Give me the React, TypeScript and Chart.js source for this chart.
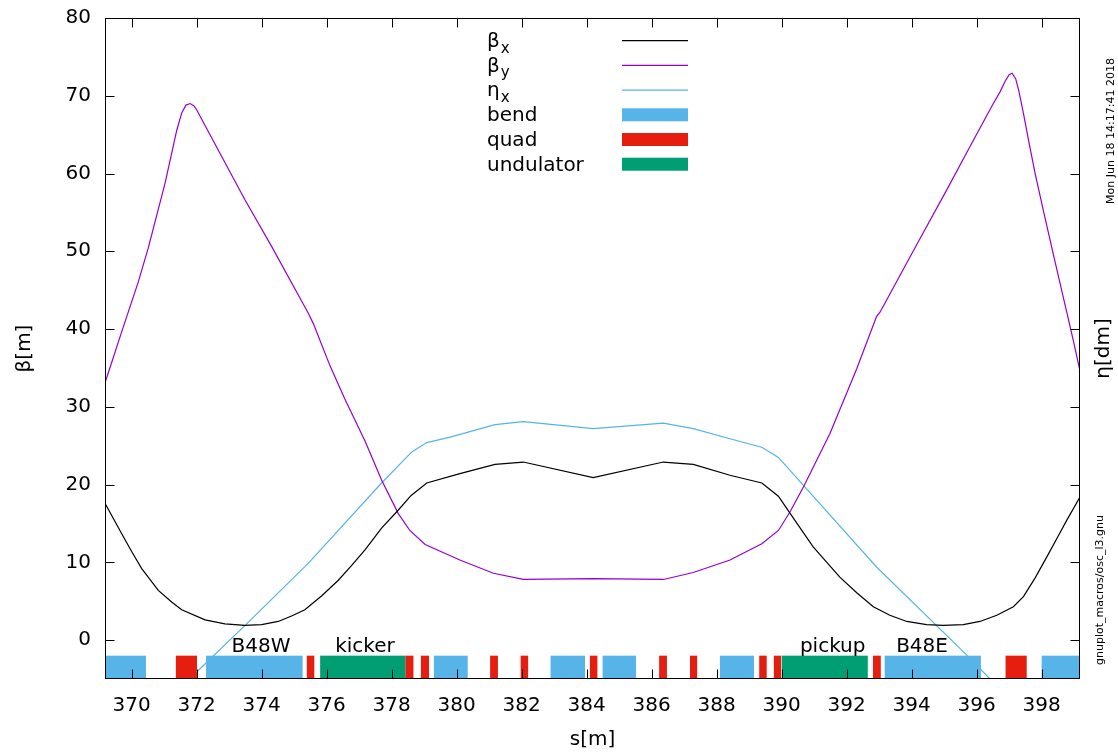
import React, { useEffect, useRef } from "react";
import { Chart, registerables } from "chart.js";

Chart.register(...registerables);

// ---- data ----
const S_BETAX = [369.18, 369.69, 370.0, 370.31, 370.82, 371.23, 371.54, 372.26, 372.87, 373.49, 374.0, 374.51, 374.92, 375.33, 375.85, 376.36, 376.77, 377.18, 377.69, 378.2, 378.6, 379.08, 380.1, 381.18, 382.05, 384.2, 386.36, 387.28, 388.41, 389.39, 389.9, 390.26, 390.97, 391.39, 391.79, 392.31, 392.82, 393.33, 393.85, 394.46, 394.97, 395.59, 396.1, 396.62, 397.13, 397.44, 397.8, 398.16, 398.51, 398.77, 399.18];
const BETAX = [17.6, 13.7, 11.4, 9.2, 6.4, 4.9, 3.9, 2.6, 2.1, 1.9, 2.0, 2.4, 3.1, 3.9, 5.7, 7.7, 9.6, 11.6, 14.4, 16.7, 18.6, 20.2, 21.4, 22.6, 22.9, 20.9, 22.9, 22.6, 21.2, 20.2, 18.5, 16.3, 12.0, 10.0, 8.1, 6.1, 4.3, 3.2, 2.4, 2.0, 1.9, 2.0, 2.4, 3.2, 4.3, 5.6, 8.0, 10.7, 13.4, 15.4, 18.4];

const S_BETAY = [369.18, 369.33, 369.69, 370.2, 370.51, 371.03, 371.39, 371.54, 371.67, 371.8, 371.92, 372.0, 372.77, 373.49, 374.31, 375.44, 375.59, 376.1, 376.56, 377.18, 377.69, 378.2, 378.56, 379.03, 380.1, 381.13, 382.05, 384.2, 386.36, 387.28, 388.41, 389.39, 389.9, 390.26, 390.67, 391.49, 392.31, 392.92, 393.03, 394.15, 395.08, 395.8, 396.5, 396.72, 396.88, 397.0, 397.09, 397.2, 397.3, 397.45, 397.6, 397.8, 398.05, 398.36, 398.67, 398.97, 399.18];
const BETAY = [33.1, 35.0, 39.6, 46.0, 50.4, 58.8, 65.6, 67.8, 68.8, 69.0, 68.7, 68.2, 62.2, 56.6, 50.6, 42.0, 40.7, 35.3, 31.0, 25.6, 20.6, 16.3, 14.1, 12.3, 10.3, 8.6, 7.8, 7.9, 7.8, 8.7, 10.3, 12.4, 14.1, 16.5, 19.7, 26.6, 34.9, 41.6, 42.2, 50.8, 57.9, 63.5, 68.9, 70.5, 71.9, 72.7, 72.9, 72.2, 70.6, 67.5, 64.2, 60.0, 55.3, 49.6, 44.0, 38.6, 34.6];

const S_ETAX = [372.0, 373.49, 375.44, 377.69, 378.62, 379.08, 379.8, 381.18, 382.05, 384.2, 386.36, 387.28, 388.41, 389.39, 389.9, 392.92, 395.69, 396.41];
const ETAX = [-4.1, 1.9, 9.9, 20.2, 24.2, 25.4, 26.1, 27.7, 28.1, 27.2, 27.9, 27.2, 25.9, 24.8, 23.5, 9.4, -1.9, -5.0];

const BEND_START = [369.18, 372.29, 379.3, 382.89, 384.49, 388.1, 393.17, 398.0];
const BEND_END = [370.44, 375.26, 380.34, 383.95, 385.52, 389.15, 396.13, 399.18];
const QUAD_START = [371.36, 375.39, 378.42, 378.9, 381.03, 381.97, 384.1, 386.23, 387.18, 389.31, 389.76, 392.81, 396.89];
const QUAD_END = [372.01, 375.62, 378.67, 379.15, 381.27, 382.2, 384.33, 386.47, 387.4, 389.54, 389.98, 393.05, 397.54];
const UND_START = [375.8, 390.0];
const UND_END = [378.42, 392.65];
const ELEMENT_TOP = -2;
const ELEMENT_BOTTOM = -5;

const ELEMENT_LABELS = ["B48W", "kicker", "pickup", "B48E"];
const ELEMENT_LABEL_S = [373.98, 377.18, 391.57, 394.32];
const ELEMENT_LABEL_Y = -1.57;

const X_TICKS = [370, 372, 374, 376, 378, 380, 382, 384, 386, 388, 390, 392, 394, 396, 398];
const Y_TICKS = [0, 10, 20, 30, 40, 50, 60, 70, 80];
const X_MIN = 369.18;
const X_MAX = 399.18;
const Y_MIN = -5;
const Y_MAX = 80;

const LEGEND_MAIN = ["β", "β", "η", "bend", "quad", "undulator"];
const LEGEND_SUB = ["x", "y", "x", "", "", ""];

const C_BX = "#000000";
const C_BY = "#9400d3";
const C_ETA = "#56b4e9";
const C_BEND = "#56b4e9";
const C_QUAD = "#e51e10";
const C_UND = "#009e73";

const FONT = '"DejaVu Sans", sans-serif';

export default function App() {
  const ref = useRef<HTMLCanvasElement>(null);

  useEffect(() => {
    document.body.style.margin = "0";
    const canvas = ref.current!;
    const pts = (xs: number[], ys: number[]) => xs.map((x, i) => ({ x, y: ys[i] }));

    const curve = (xs: number[], ys: number[], color: string) => ({
      data: pts(xs, ys),
      borderColor: color,
      borderWidth: 1.2,
      pointRadius: 0,
      tension: 0,
      fill: false,
    });

    const legendColors = [C_BX, C_BY, C_ETA, C_BEND, C_QUAD, C_UND];
    const elementGroups: [number[], number[], string][] = [
      [BEND_START, BEND_END, C_BEND],
      [QUAD_START, QUAD_END, C_QUAD],
      [UND_START, UND_END, C_UND],
    ];

    const elements = {
      id: "elements",
      beforeDatasetsDraw(chart: any) {
        const ctx = chart.ctx as CanvasRenderingContext2D;
        const a = chart.chartArea;
        const xs = chart.scales.x;
        const ys = chart.scales.y;
        ctx.save();
        ctx.beginPath();
        ctx.rect(a.left, a.top, a.right - a.left, a.bottom - a.top);
        ctx.clip();
        const yT = ys.getPixelForValue(ELEMENT_TOP);
        const yB = ys.getPixelForValue(ELEMENT_BOTTOM);
        elementGroups.forEach(([st, en, color]) => {
          ctx.fillStyle = color;
          st.forEach((s, i) => {
            const x0 = xs.getPixelForValue(s);
            const x1 = xs.getPixelForValue(en[i]);
            ctx.fillRect(x0, yT, x1 - x0, yB - yT);
          });
        });
        ctx.restore();
      },
    };

    const overlay = {
      id: "overlay",
      afterDraw(chart: any) {
        const ctx = chart.ctx as CanvasRenderingContext2D;
        const a = chart.chartArea;
        const xs = chart.scales.x;
        const ys = chart.scales.y;
        ctx.save();
        // element labels
        ctx.fillStyle = "#000";
        ctx.font = `20px ${FONT}`;
        ctx.textAlign = "center";
        ctx.textBaseline = "alphabetic";
        ELEMENT_LABELS.forEach((t, i) => {
          ctx.fillText(t, xs.getPixelForValue(ELEMENT_LABEL_S[i]), ys.getPixelForValue(ELEMENT_LABEL_Y));
        });
        // frame
        ctx.strokeStyle = "#000";
        ctx.lineWidth = 1;
        const L = Math.round(a.left) + 0.5;
        const R = Math.round(a.right) - 0.5;
        const T = Math.round(a.top) + 0.5;
        const B = Math.round(a.bottom) - 0.5;
        ctx.strokeRect(L, T, R - L, B - T);
        const tl = 9;
        ctx.beginPath();
        X_TICKS.forEach((v) => {
          const p = Math.round(xs.getPixelForValue(v)) + 0.5;
          ctx.moveTo(p, B);
          ctx.lineTo(p, B - tl);
          ctx.moveTo(p, T);
          ctx.lineTo(p, T + tl);
        });
        Y_TICKS.forEach((v) => {
          const p = Math.round(ys.getPixelForValue(v)) + 0.5;
          ctx.moveTo(L, p);
          ctx.lineTo(L + tl, p);
          ctx.moveTo(R, p);
          ctx.lineTo(R - tl, p);
        });
        ctx.stroke();
        // legend
        ctx.textAlign = "left";
        LEGEND_MAIN.forEach((t, i) => {
          const yc = 40.7 + 24.7 * i;
          ctx.font = `20px ${FONT}`;
          ctx.fillStyle = "#000";
          ctx.fillText(t, 487, yc + 6.3);
          if (LEGEND_SUB[i]) {
            const w = ctx.measureText(t).width;
            ctx.font = `15px ${FONT}`;
            ctx.fillText(LEGEND_SUB[i], 487 + w + 1, yc + 12);
          }
          if (i < 3) {
            ctx.strokeStyle = legendColors[i];
            ctx.lineWidth = 1.2;
            ctx.beginPath();
            ctx.moveTo(622, yc);
            ctx.lineTo(688, yc);
            ctx.stroke();
          } else {
            ctx.fillStyle = legendColors[i];
            ctx.fillRect(622, yc - 6.5, 66, 13);
          }
        });
        // axis titles
        ctx.fillStyle = "#000";
        ctx.font = `20px ${FONT}`;
        ctx.textAlign = "center";
        ctx.textBaseline = "middle";
        ctx.fillText("s[m]", (a.left + a.right) / 2, 740);
        ctx.save();
        ctx.translate(25, (a.top + a.bottom) / 2);
        ctx.rotate(-Math.PI / 2);
        ctx.fillText("β[m]", 0, 0);
        ctx.restore();
        ctx.save();
        ctx.translate(1104, (a.top + a.bottom) / 2);
        ctx.rotate(-Math.PI / 2);
        ctx.fillText("η[dm]", 0, 0);
        ctx.restore();
        // side notes
        ctx.font = `11px ${FONT}`;
        ctx.save();
        ctx.translate(1111, 131);
        ctx.rotate(-Math.PI / 2);
        ctx.fillText("Mon Jun 18 14:17:41 2018", 0, 0);
        ctx.restore();
        ctx.save();
        ctx.translate(1100, 590);
        ctx.rotate(-Math.PI / 2);
        ctx.fillText("gnuplot_macros/osc_l3.gnu", 0, 0);
        ctx.restore();
        ctx.restore();
      },
    };

    const chart = new Chart(canvas, {
      type: "line",
      data: {
        datasets: [
          curve(S_BETAX, BETAX, C_BX),
          curve(S_BETAY, BETAY, C_BY),
          curve(S_ETAX, ETAX, C_ETA),
        ] as any,
      },
      options: {
        responsive: false,
        animation: false,
        devicePixelRatio: 1,
        layout: { padding: { top: 18, right: 38, left: 0, bottom: 0 } },
        plugins: { legend: { display: false }, tooltip: { enabled: false } },
        events: [],
        scales: {
          x: {
            type: "linear",
            min: X_MIN,
            max: X_MAX,
            grid: { display: false, drawTicks: false },
            border: { display: false },
            afterBuildTicks: (s: any) => {
              s.ticks = X_TICKS.map((v) => ({ value: v }));
            },
            afterFit: (s: any) => {
              s.height = 74;
              s.paddingLeft = 0;
              s.paddingRight = 0;
            },
            ticks: {
              font: { family: FONT, size: 20 },
              color: "#000",
              padding: 15,
              maxRotation: 0,
              autoSkip: false,
              callback: (v: any) => String(v),
            },
          },
          y: {
            type: "linear",
            min: Y_MIN,
            max: Y_MAX,
            grid: { display: false, drawTicks: false },
            border: { display: false },
            afterBuildTicks: (s: any) => {
              s.ticks = Y_TICKS.map((v) => ({ value: v }));
            },
            afterFit: (s: any) => {
              s.width = 105;
              s.paddingTop = 0;
              s.paddingBottom = 0;
            },
            ticks: {
              font: { family: FONT, size: 20 },
              color: "#000",
              padding: 14,
              autoSkip: false,
              callback: (v: any) => String(v),
            },
          },
        },
      },
      plugins: [elements, overlay],
    });
    return () => chart.destroy();
  }, []);

  return (
    <div style={{ width: 1118, height: 753 }}>
      <canvas ref={ref} width={1118} height={753} style={{ display: "block" }} />
    </div>
  );
}
